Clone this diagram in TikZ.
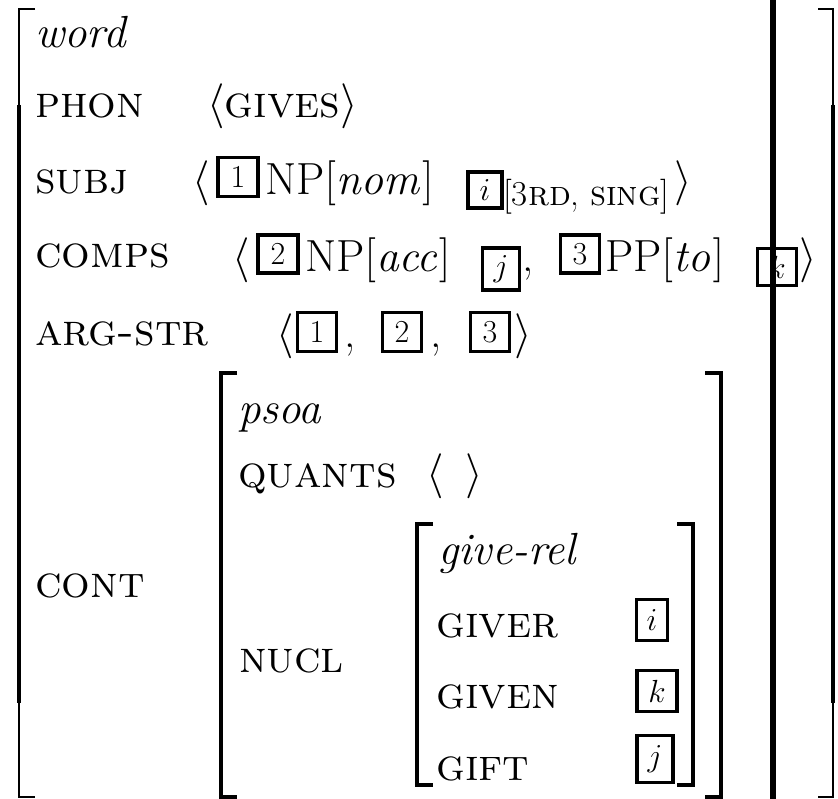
\RequirePackage{fix-cm}
\documentclass[tikz,border=0pt]{standalone}
\begin{document}
\begin{tikzpicture}[x=1pt,y=-1pt,
  lbl/.style={anchor=base west, inner sep=0pt, font=\fontsize{45}{54}\selectfont},
  sublbl/.style={anchor=base west, inner sep=0pt, font=\fontsize{35}{42}\selectfont},
  tag/.style 2 args={draw, line width=3.8pt, inner sep=0pt, minimum width=#1, minimum height=#2, font=\fontsize{32}{32}\selectfont},
  brkthin/.style={line width=2.5pt},
  brkthick/.style={line width=4.2pt},
  bar/.style={line width=6pt}
]
\useasboundingbox (0,0) rectangle (838,799);
% outer brackets
\draw[brkthin] (35,9) -- (19,9) -- (19,797) -- (35,797);
\draw[brkthick] (19,105) -- (19,703);
\draw[brkthin] (818,9) -- (833,9) -- (833,797) -- (818,797);
\draw[brkthick] (833,105) -- (833,703);
% psoa brackets
\draw[brkthick] (237,373) -- (221,373) -- (221,797) -- (237,797);
\draw[brkthick] (705,373) -- (721,373) -- (721,797) -- (705,797);
% give-rel brackets
\draw[brkthick] (433,524) -- (417,524) -- (417,785) -- (433,785);
\draw[brkthick] (677,524) -- (693,524) -- (693,785) -- (677,785);
% thick vertical bar
\draw[bar] (773,0) -- (773,799);

% rows
\node[lbl] (word) at (35,48) {\textit{word}};
\node[lbl] (phon) at (35,118) {\textsc{phon}};
\node[lbl] (phonv) at (207,118) {$\langle$\textsc{gives}$\rangle$};

\node[lbl] (subj) at (35,194) {\textsc{subj}};
\node[lbl] (subjo) at (192,195) {$\langle$};
\node[tag={40}{39}] (t1a) at (238,177) {1};
\node[lbl] (np1) at (265,195) {NP$[\mathit{nom}]$};
\node[tag={34}{36}] (ti) at (485,190) {$i$};
\node[sublbl] (agr) at (503,206) {[3\textsc{rd},\ \textsc{sing}]};
\node[lbl] (subjc) at (674,195) {$\rangle$};

\node[lbl] (comps) at (35,268) {\textsc{comps}};
\node[lbl] (compso) at (232,272) {$\langle$};
\node[tag={40}{38}] (t2a) at (278,254) {2};
\node[lbl] (np2) at (305,272) {NP$[\mathit{acc}]$};
\node[tag={37}{42}] (tj) at (501,269) {$j$};
\node[lbl] (cma) at (522,272) {,};
\node[tag={39}{38}] (t3a) at (580,254) {3};
\node[lbl] (pp) at (605,272) {PP$[\mathit{to}]$};
\node[tag={39}{37}] (tk) at (777,267) {$k$};
\node[lbl] (compsc) at (799,272) {$\rangle$};

\node[lbl] (arg) at (35,346) {\textsc{arg-str}};
\node[lbl] (argo) at (276,348) {$\langle$};
\node[tag={39}{39}] (t1b) at (317,332) {1};
\node[lbl] (cmb) at (344,348) {,};
\node[tag={39}{39}] (t2b) at (402,332) {2};
\node[lbl] (cmc) at (430,348) {,};
\node[tag={39}{39}] (t3b) at (490,332) {3};
\node[lbl] (argc) at (514,348) {$\rangle$};

\node[lbl] (cont) at (35,597) {\textsc{cont}};
\node[lbl] (psoa) at (238,424) {\textit{psoa}};
\node[lbl] (quants) at (238,487) {\textsc{quants}};
\node[lbl] (qo) at (426,487) {$\langle$};
\node[lbl] (qc) at (465,487) {$\rangle$};
\node[lbl] (nucl) at (239,672) {\textsc{nucl}};
\node[lbl] (give) at (438,564) {\textit{give-rel}};
\node[lbl] (giver) at (436,637) {\textsc{giver}};
\node[tag={31}{41}] (ti2) at (652,620) {$i$};
\node[lbl] (given) at (436,708) {\textsc{given}};
\node[tag={40}{41}] (tk2) at (657,691) {$k$};
\node[lbl] (gift) at (436,780) {\textsc{gift}};
\node[tag={36}{47}] (tj2) at (655,759) {$j$};
\end{tikzpicture}
\end{document}
